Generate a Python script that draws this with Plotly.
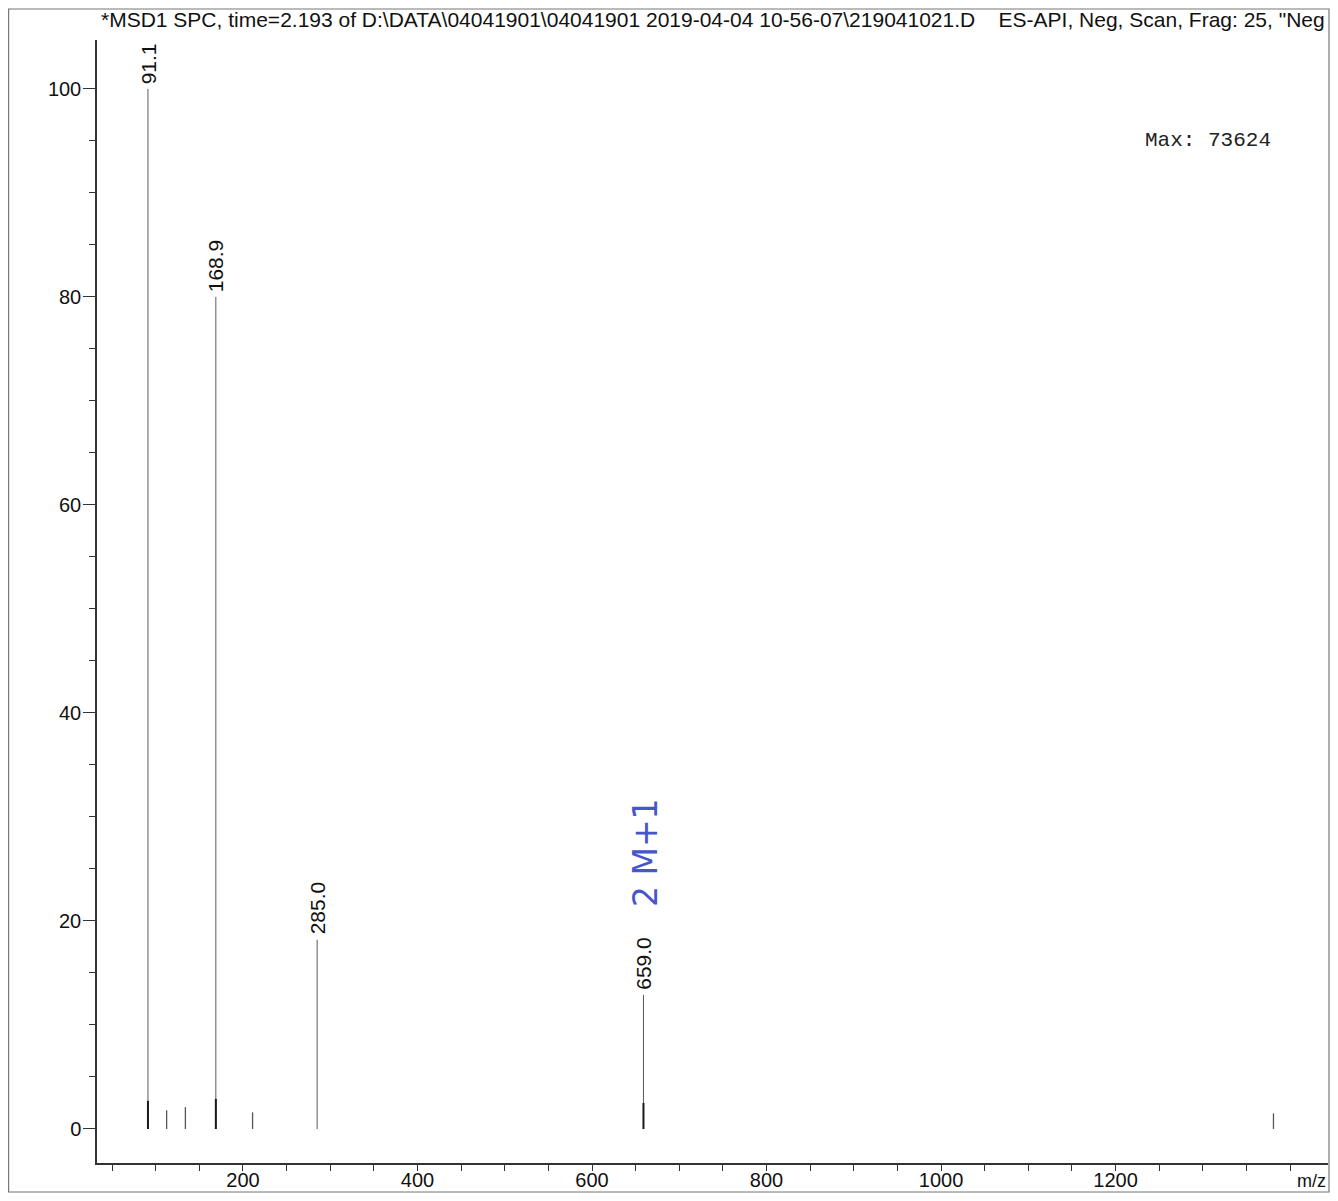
import plotly.graph_objects as go

# ---- data ----
peak_mz = [91.1, 168.9, 285.0, 659.0]
peak_int = [100.0, 80.0, 18.2, 12.9]
peak_labels = ["91.1", "168.9", "285.0", "659.0"]
peak_base_int = [2.7, 2.9, 0.0, 2.5]          # darker overlapping base of main peaks

minor_mz = [112.5, 134.0, 211.0, 1381.0]
minor_int = [1.8, 2.1, 1.6, 1.5]

x_major_ticks = [200, 400, 600, 800, 1000, 1200]
y_major_ticks = [0, 20, 40, 60, 80, 100]

title_text = "*MSD1 SPC, time=2.193 of D:\\DATA\\04041901\\04041901 2019-04-04 10-56-07\\219041021.D    ES-API, Neg, Scan, Frag: 25, \"Neg"
max_text = "Max: 73624"
note_text = "2 M+1"

# ---- layout geometry (page has an 8px body margin) ----
OFF = 8
W, H = 1338 - 2 * OFF, 1201 - 2 * OFF
ML = 97 - OFF
MT = 40 - OFF
MR = W - (1328 - OFF)
MB = H - (1163 - OFF)
PW, PH = W - ML - MR, H - MT - MB


def px(xp):  # reference-page pixel -> paper fraction
    return (xp - OFF - ML) / PW


def py(yp):
    return (H - MB - (yp - OFF)) / PH


def stems(xs, ys):
    X, Y = [], []
    for x, y in zip(xs, ys):
        X += [x, x, None]
        Y += [0, y, None]
    return X, Y


fig = go.Figure()
X, Y = stems(peak_mz, peak_int)
fig.add_trace(go.Scatter(x=X, y=Y, mode="lines",
                         line=dict(color="#5a5a5a", width=1), hoverinfo="skip"))
Xb, Yb = stems(peak_mz, peak_base_int)
fig.add_trace(go.Scatter(x=Xb, y=Yb, mode="lines",
                         line=dict(color="#1a1a1a", width=2), hoverinfo="skip"))
Xm, Ym = stems(minor_mz, minor_int)
fig.add_trace(go.Scatter(x=Xm, y=Ym, mode="lines",
                         line=dict(color="#555555", width=1.3), hoverinfo="skip"))

annotations = []
for mz, h, lab in zip(peak_mz, peak_int, peak_labels):
    annotations.append(dict(x=mz, y=h, xref="x", yref="y", text=lab, showarrow=False,
                            textangle=-90, xanchor="center", yanchor="bottom",
                            yshift=3, font=dict(family="Liberation Sans, Arial", size=21, color="#111")))

annotations.append(dict(x=px(713), y=py(20), xref="paper", yref="paper", text=title_text,
                        showarrow=False, xanchor="center", yanchor="middle",
                        font=dict(family="Liberation Sans, Arial", size=21, color="#111")))
annotations.append(dict(x=px(1208), y=py(140), xref="paper", yref="paper", text=max_text,
                        showarrow=False, xanchor="center", yanchor="middle",
                        font=dict(family="Liberation Mono, Courier New, monospace", size=21, color="#222")))
annotations.append(dict(x=px(645), y=py(853), xref="paper", yref="paper", text=note_text,
                        showarrow=False, textangle=-90, xanchor="center", yanchor="middle",
                        font=dict(family="DejaVu Sans", size=33, color="#4657cc")))
annotations.append(dict(x=px(1311), y=py(1181), xref="paper", yref="paper", text="m/z",
                        showarrow=False, xanchor="center", yanchor="middle",
                        font=dict(family="Liberation Sans, Arial", size=18, color="#111")))

x_tickvals = list(range(50, 1401, 50))
x_ticktext = [str(v) if v in x_major_ticks else "" for v in x_tickvals]

fig.update_layout(
    width=W, height=H, autosize=False,
    margin=dict(l=ML, r=MR, t=MT, b=MB, pad=0),
    paper_bgcolor="white", plot_bgcolor="white",
    showlegend=False,
    annotations=annotations,
    xaxis=dict(range=[32.7, 1443.5], showgrid=False, zeroline=False, automargin=False,
               showline=True, linecolor="#333", linewidth=1.5,
               ticks="outside", ticklen=6, tickwidth=1.2, tickcolor="#333",
               tickvals=x_tickvals, ticktext=x_ticktext, ticklabelstandoff=-8,
               tickfont=dict(family="Liberation Sans, Arial", size=20, color="#111")),
    yaxis=dict(range=[-3.27, 104.7], showgrid=False, zeroline=False, automargin=False,
               showline=True, linecolor="#333", linewidth=1.5,
               ticks="outside", ticklen=12, tickwidth=1.2, tickcolor="#333",
               tickvals=y_major_ticks, ticklabelstandoff=-2,
               minor=dict(dtick=5, tick0=0, ticks="outside", ticklen=6, tickcolor="#333", tickwidth=1.2),
               tickfont=dict(family="Liberation Sans, Arial", size=20, color="#111")),
    shapes=[dict(type="rect", xref="paper", yref="paper",
                 x0=-ML / PW + 0.6 / PW, x1=(PW + MR - 1) / PW,
                 y0=-(MB - 1) / PH, y1=(PH + MT - 1) / PH,
                 line=dict(color="#777", width=1.2), fillcolor="rgba(0,0,0,0)", layer="below")],
)

fig.write_html("out.html")
